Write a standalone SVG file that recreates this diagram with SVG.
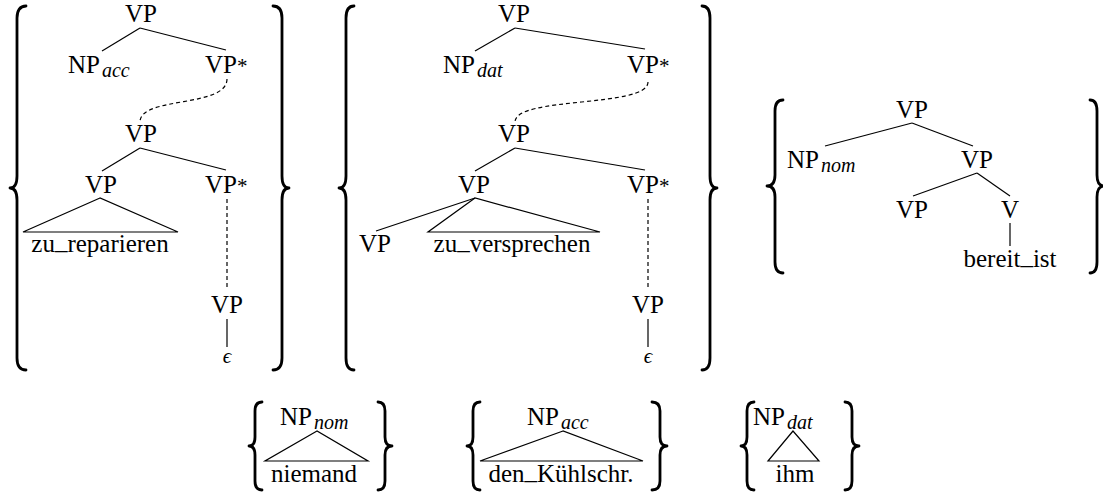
<svg xmlns="http://www.w3.org/2000/svg" width="1103" height="495" viewBox="0 0 1103 495">
  <style>
    text { font-family: 'Liberation Serif', 'DejaVu Serif', serif; font-size: 25px; fill: #000; }
    .c { text-anchor: middle; }
    .sub { font-style: italic; font-size: 20px; }
    .star { font-size: 21px; }
    .eps { font-style: italic; font-size: 21px; }
    .edge { stroke: #000; stroke-width: 1.2; fill: none; }
    .dash { stroke: #000; stroke-width: 1.2; fill: none; stroke-dasharray: 4 3; }
    .tri { stroke: #000; stroke-width: 1.2; fill: none; stroke-linejoin: miter; }
    .brace { stroke: #000; stroke-width: 2.8; fill: none; stroke-linecap: round; stroke-linejoin: round; }
  </style>

  <!-- curly braces around each elementary tree set -->
  <g id="braces">
    <path class="brace" d="M26,6 Q17,6 17,18 L17,176 Q17,188 10,188 Q17,188 17,200 L17,358 Q17,370 26,370"/>
    <path class="brace" d="M273,6 Q282,6 282,18 L282,176 Q282,188 289,188 Q282,188 282,200 L282,358 Q282,370 273,370"/>
    <path class="brace" d="M354,6 Q346,6 346,18 L346,176 Q346,188 339,188 Q346,188 346,200 L346,358 Q346,370 354,370"/>
    <path class="brace" d="M702,6 Q710,6 710,18 L710,176 Q710,188 717,188 Q710,188 710,200 L710,358 Q710,370 702,370"/>
    <path class="brace" d="M783,100 Q775,100 775,111 L775,175 Q775,186 767,186 Q775,186 775,197 L775,262 Q775,273 783,273"/>
    <path class="brace" d="M1090,100 Q1097,100 1097,111 L1097,175 Q1097,186 1104,186 Q1097,186 1097,197 L1097,262 Q1097,273 1090,273"/>
    <path class="brace" d="M262,402 Q255,402 255,411 L255,437 Q255,446 249,446 Q255,446 255,455 L255,481 Q255,490 262,490"/>
    <path class="brace" d="M378,402 Q385,402 385,411 L385,437 Q385,446 392,446 Q385,446 385,455 L385,481 Q385,490 378,490"/>
    <path class="brace" d="M480,402 Q473,402 473,411 L473,437 Q473,446 467,446 Q473,446 473,455 L473,481 Q473,490 480,490"/>
    <path class="brace" d="M652,402 Q660,402 660,411 L660,437 Q660,446 667,446 Q660,446 660,455 L660,481 Q660,490 652,490"/>
    <path class="brace" d="M754,402 Q747,402 747,411 L747,437 Q747,446 741,446 Q747,446 747,455 L747,481 Q747,490 754,490"/>
    <path class="brace" d="M845,402 Q852,402 852,411 L852,437 Q852,446 859,446 Q852,446 852,455 L852,481 Q852,490 845,490"/>
  </g>

  <!-- tree branches, dominance links and triangles -->
  <g id="connectors">
    <!-- tree: NP_acc zu_reparieren -->
    <line class="edge" x1="140" y1="28" x2="102" y2="51"/>
    <line class="edge" x1="140" y1="28" x2="226" y2="50"/>
    <path class="dash" d="M227,79 C227,108 140,96 140,122"/>
    <line class="edge" x1="140" y1="148" x2="102" y2="171"/>
    <line class="edge" x1="140" y1="148" x2="226" y2="170"/>
    <path class="tri" d="M100,198 L23,232 L178,232 Z"/>
    <line class="dash" x1="227" y1="199" x2="227" y2="289"/>
    <line class="edge" x1="227" y1="319" x2="227" y2="347"/>

    <!-- tree: NP_dat zu_versprechen -->
    <line class="edge" x1="515" y1="28" x2="475" y2="51"/>
    <line class="edge" x1="515" y1="28" x2="645" y2="49"/>
    <path class="dash" d="M648,82 C648,108 515,96 515,122"/>
    <line class="edge" x1="515" y1="148" x2="475" y2="171"/>
    <line class="edge" x1="515" y1="148" x2="645" y2="170"/>
    <line class="edge" x1="475" y1="198" x2="376" y2="231"/>
    <path class="tri" d="M475,198 L428,232 L600,232 Z"/>
    <line class="dash" x1="648" y1="199" x2="648" y2="289"/>
    <line class="edge" x1="648" y1="319" x2="648" y2="347"/>

    <!-- tree: NP_nom bereit_ist -->
    <line class="edge" x1="912" y1="123" x2="825" y2="146"/>
    <line class="edge" x1="912" y1="123" x2="973" y2="146"/>
    <line class="edge" x1="977" y1="173" x2="913" y2="196"/>
    <line class="edge" x1="977" y1="173" x2="1010" y2="196"/>
    <line class="edge" x1="1010" y1="223" x2="1010" y2="246"/>

    <!-- initial NP trees -->
    <path class="tri" d="M317,431 L265,461 L368,461 Z"/>
    <path class="tri" d="M563,431 L480,461 L643,461 Z"/>
    <path class="tri" d="M793,431 L768,461 L819,461 Z"/>
  </g>

  <!-- tree: NP_acc zu_reparieren -->
  <g id="t1-vp-root"><text class="c" x="141" y="22">VP</text></g>
  <g id="t1-np-acc"><text x="68" y="73">NP<tspan class="sub" dx="2" dy="4">acc</tspan></text></g>
  <g id="t1-vp-foot1"><text x="205" y="73">VP<tspan class="star">*</tspan></text></g>
  <g id="t1-vp-mid"><text class="c" x="141" y="142">VP</text></g>
  <g id="t1-vp-left"><text class="c" x="101" y="193">VP</text></g>
  <g id="t1-vp-foot2"><text x="205" y="193">VP<tspan class="star">*</tspan></text></g>
  <g id="t1-word"><text class="c" x="100" y="252">zu<tspan dy="-3">_</tspan><tspan dy="3">reparieren</tspan></text></g>
  <g id="t1-vp-low"><text class="c" x="227" y="313">VP</text></g>
  <g id="t1-eps"><text class="c eps" x="227" y="363">ϵ</text></g>

  <!-- tree: NP_dat zu_versprechen -->
  <g id="t2-vp-root"><text class="c" x="514" y="22">VP</text></g>
  <g id="t2-np-dat"><text x="443" y="73">NP<tspan class="sub" dx="2" dy="4">dat</tspan></text></g>
  <g id="t2-vp-foot1"><text x="627" y="73">VP<tspan class="star">*</tspan></text></g>
  <g id="t2-vp-mid"><text class="c" x="514" y="142">VP</text></g>
  <g id="t2-vp-left"><text class="c" x="474" y="193">VP</text></g>
  <g id="t2-vp-foot2"><text x="627" y="193">VP<tspan class="star">*</tspan></text></g>
  <g id="t2-vp-subst"><text class="c" x="375" y="252">VP</text></g>
  <g id="t2-word"><text class="c" x="512" y="252">zu<tspan dy="-3">_</tspan><tspan dy="3">versprechen</tspan></text></g>
  <g id="t2-vp-low"><text class="c" x="648" y="313">VP</text></g>
  <g id="t2-eps"><text class="c eps" x="648" y="363">ϵ</text></g>

  <!-- tree: NP_nom bereit_ist -->
  <g id="t3-vp-root"><text class="c" x="912" y="118">VP</text></g>
  <g id="t3-np-nom"><text x="787" y="168">NP<tspan class="sub" dx="2" dy="4">nom</tspan></text></g>
  <g id="t3-vp-mid"><text class="c" x="977" y="168">VP</text></g>
  <g id="t3-vp-left"><text class="c" x="912" y="218">VP</text></g>
  <g id="t3-v"><text class="c" x="1010" y="218">V</text></g>
  <g id="t3-word"><text class="c" x="1010" y="267">bereit<tspan dy="-3">_</tspan><tspan dy="3">ist</tspan></text></g>

  <!-- initial NP trees -->
  <g id="np-niemand">
    <text x="280" y="425">NP<tspan class="sub" dx="2" dy="4">nom</tspan></text>
    <text class="c" x="314" y="482">niemand</text>
  </g>
  <g id="np-kuehlschrank">
    <text x="527" y="425">NP<tspan class="sub" dx="2" dy="4">acc</tspan></text>
    <text class="c" x="561" y="482">den<tspan dy="-3">_</tspan><tspan dy="3">Kühlschr.</tspan></text>
  </g>
  <g id="np-ihm">
    <text x="753" y="425">NP<tspan class="sub" dx="2" dy="4">dat</tspan></text>
    <text class="c" x="795" y="482">ihm</text>
  </g>
</svg>
